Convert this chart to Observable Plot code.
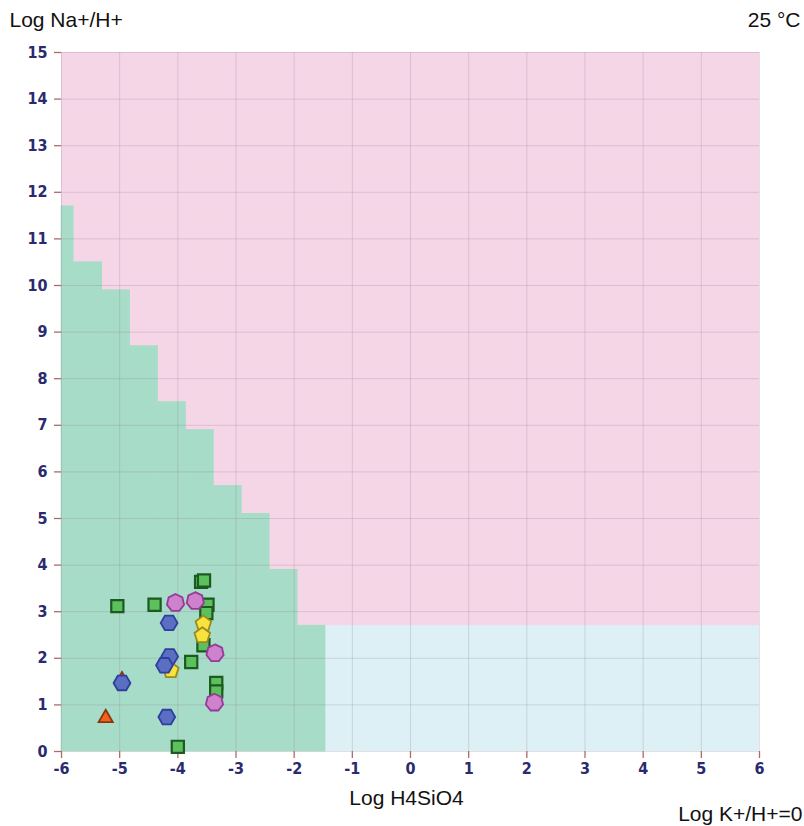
<!DOCTYPE html>
<html>
<head>
<meta charset="utf-8">
<script src="https://cdn.jsdelivr.net/npm/d3@7"></script>
<script src="https://cdn.jsdelivr.net/npm/@observablehq/plot@0.6"></script>
<style>
  body { margin: 0; background: #fff; }
  #chart svg { display: block; }
  #chart [aria-label="x-axis tick label"] text, #chart [aria-label="y-axis tick label"] text {
    font-family: 'Liberation Sans Narrow', 'DejaVu Sans Condensed', sans-serif; font-weight: bold;
  }
</style>
</head>
<body>
<div id="chart"></div>
<script>
// Stability field boundaries (Log H4SiO4 step edges and Log Na+/H+ step tops)
const stepEdges = [-6, -5.79, -5.30, -4.82, -4.34, -3.86, -3.38, -2.90, -2.42, -1.94, -1.46];
const stepTops  = [11.7, 10.5, 9.9, 8.7, 7.5, 6.9, 5.7, 5.1, 3.9, 2.7];
const blueTop = 2.7;

const xTicks = [-6, -5, -4, -3, -2, -1, 0, 1, 2, 3, 4, 5, 6];
const yTicks = [0, 1, 2, 3, 4, 5, 6, 7, 8, 9, 10, 11, 12, 13, 14, 15];

// Samples
const squaresX = [-3.60, -3.55, -5.04, -4.40, -3.49, -3.51, -3.56, -3.77, -3.34, -3.34, -4.00];
const squaresY = [3.64, 3.67, 3.12, 3.15, 3.15, 2.97, 2.28, 1.92, 1.47, 1.29, 0.10];
const heptX = [-4.04, -3.70, -3.36, -3.37];
const heptY = [3.19, 3.23, 2.11, 1.05];
const hexX = [-4.15, -4.14, -4.23, -4.96, -4.19];
const hexY = [2.76, 2.04, 1.85, 1.47, 0.74];
const pentX = [-3.56, -3.58, -4.12];
const pentY = [2.74, 2.49, 1.74];
const triX = [-5.24, -4.96];
const triY = [0.72, 1.53];

const zip = (xs, ys) => xs.map((x, i) => ({x, y: ys[i]}));

function polygon(n, rot, scale = 1) {
  return {
    draw(context, size) {
      const r = Math.sqrt(size / Math.PI) * scale;
      for (let i = 0; i < n; i++) {
        const a = rot + (2 * Math.PI * i) / n;
        const px = r * Math.sin(a), py = -r * Math.cos(a);
        if (i === 0) context.moveTo(px, py); else context.lineTo(px, py);
      }
      context.closePath();
    }
  };
}
const symSquare = polygon(4, Math.PI / 4);
const symHex = polygon(6, Math.PI / 6);
const symHept = polygon(7, 0);
const symPent = polygon(5, 0);
const symTri = polygon(3, 0);

const steps = stepTops.map((t, i) => ({x1: stepEdges[i], x2: stepEdges[i + 1], y1: 0, y2: t}));

const font = "'Liberation Sans', Arial, sans-serif";

const plot = Plot.plot({
  width: 804,
  height: 826,
  marginTop: 52,
  marginBottom: 75,
  marginLeft: 61,
  marginRight: 45,
  style: {fontFamily: font, background: "#fff"},
  x: {domain: [-6, 6]},
  y: {domain: [0, 15]},
  marks: [
    Plot.rect([{x1: -6, x2: 6, y1: 0, y2: 15}], {x1: "x1", x2: "x2", y1: "y1", y2: "y2", fill: "#f5d6e7"}),
    Plot.rect([{x1: stepEdges[stepEdges.length - 1], x2: 6, y1: 0, y2: blueTop}], {x1: "x1", x2: "x2", y1: "y1", y2: "y2", fill: "#dcf0f6"}),
    Plot.rect(steps, {x1: "x1", x2: "x2", y1: "y1", y2: "y2", fill: "#a7dcc9", inset: -0.3}),
    Plot.gridX(xTicks, {stroke: "#8a6a80", strokeOpacity: 0.22, strokeWidth: 1}),
    Plot.gridY(yTicks, {stroke: "#8a6a80", strokeOpacity: 0.22, strokeWidth: 1}),
    Plot.axisX(xTicks, {tickSize: 7, tickPadding: 4, fontSize: 16, tickFormat: d => String(d), fill: "#2b2a6e", label: null}),
    Plot.axisY(yTicks, {tickSize: 7, tickPadding: 7, fontSize: 16, tickFormat: d => String(d), fill: "#2b2a6e", label: null}),
    Plot.dot(zip(triX, triY), {x: "x", y: "y", symbol: symTri, r: 8.2, fill: "#f0621e", stroke: "#8a3510", strokeWidth: 1.8}),
    Plot.dot(zip(squaresX, squaresY), {x: "x", y: "y", symbol: symSquare, r: 8.6, fill: "#5cc05c", stroke: "#1d5a22", strokeWidth: 2.2}),
    Plot.dot(zip(pentX, pentY), {x: "x", y: "y", symbol: symPent, r: 8.2, fill: "#f7e23e", stroke: "#9a8a20", strokeWidth: 1.8}),
    Plot.dot(zip(hexX, hexY), {x: "x", y: "y", symbol: symHex, r: 8.4, fill: "#5a6fc2", stroke: "#2f3fa0", strokeWidth: 1.8}),
    Plot.dot(zip(heptX, heptY), {x: "x", y: "y", symbol: symHept, r: 8.8, fill: "#cf82cc", stroke: "#963a98", strokeWidth: 1.8}),
    Plot.text(["Log Na+/H+"], {frameAnchor: "top-left", dx: -52, dy: -32, textAnchor: "start", lineAnchor: "middle", fontSize: 21, fill: "#111"}),
    Plot.text(["25 °C"], {frameAnchor: "top-right", dx: 41, dy: -32, textAnchor: "end", lineAnchor: "middle", fontSize: 21, fill: "#111"}),
    Plot.text(["Log H4SiO4"], {frameAnchor: "bottom", dx: -4, dy: 53, textAnchor: "middle", lineAnchor: "bottom", fontSize: 21, fill: "#111"}),
    Plot.text(["Log K+/H+=0"], {frameAnchor: "bottom-right", dx: 43, dy: 69, textAnchor: "end", lineAnchor: "bottom", fontSize: 21, fill: "#111"})
  ]
});

d3.select(plot).selectAll('[aria-label="x-axis tick"], [aria-label="y-axis tick"]').attr("stroke", "#b06a6a").attr("stroke-width", 1.3);
document.getElementById("chart").appendChild(plot);
</script>
</body>
</html>
